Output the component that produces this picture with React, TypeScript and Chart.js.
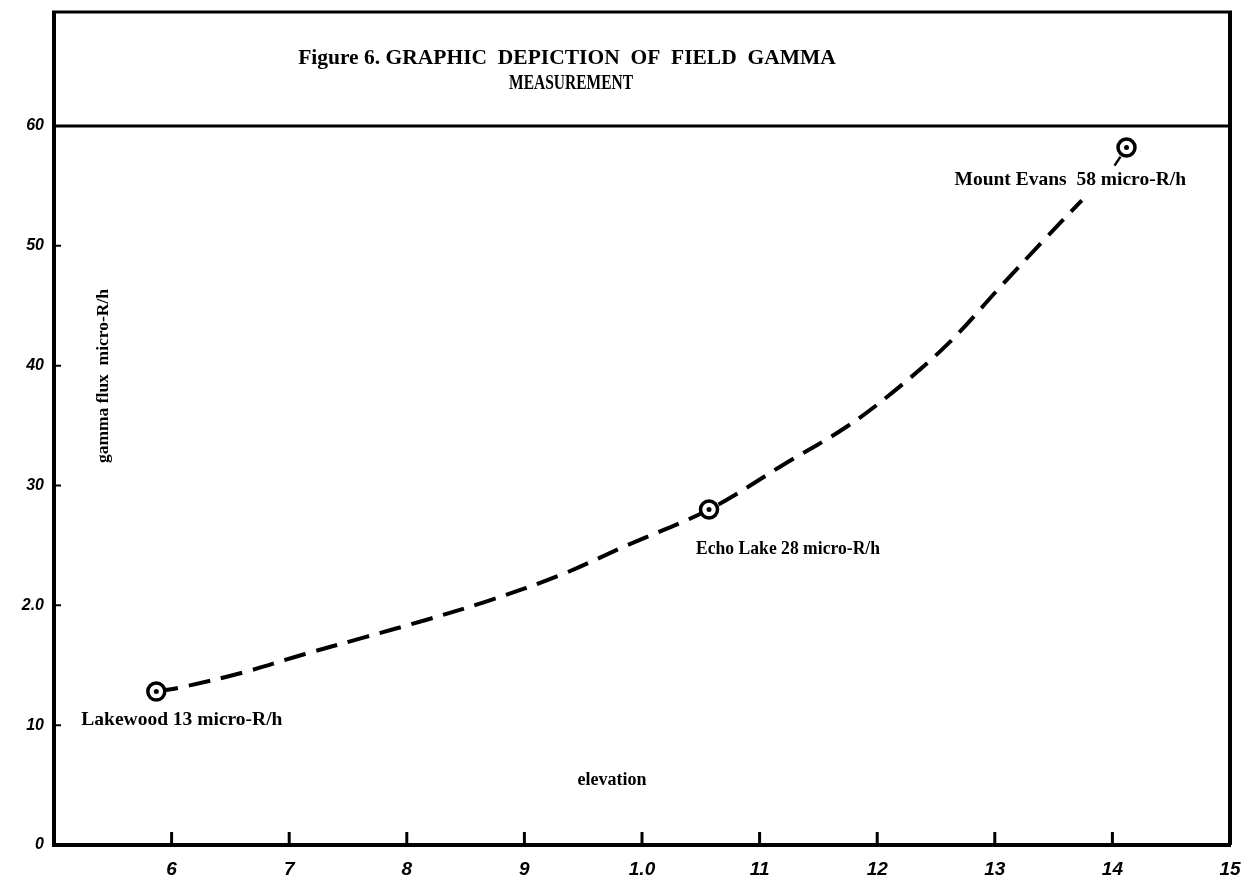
import React, { useEffect, useRef } from "react";
import { Chart, registerables } from "chart.js";

Chart.register(...registerables);

// ---- data ----
const siteNames = ["Lakewood", "Echo Lake", "Mount Evans"];
const siteLabels = ["Lakewood 13 micro-R/h", "Echo Lake 28 micro-R/h", "Mount Evans  58 micro-R/h"];
const siteElevation = [5.87, 10.57, 14.12];
const siteGamma = [12.8, 28.0, 58.2];

const curveElevation = [5.87, 6.1, 6.61, 7.12, 7.63, 8.17, 8.7, 9.3, 9.87, 10.57, 11.23, 11.74, 12.16, 12.61, 13.04, 13.4, 13.74];
const curveGamma = [12.8, 13.2, 14.4, 15.9, 17.3, 18.8, 20.4, 22.5, 25.0, 28.0, 31.9, 34.9, 38.0, 41.9, 46.5, 50.3, 53.8];

const xTickValues = [6, 7, 8, 9, 10, 11, 12, 13, 14, 15];
const xTickLabels = ["6", "7", "8", "9", "1.0", "11", "12", "13", "14", "15"];
const yTickValues = [0, 10, 20, 30, 40, 50, 60];
const yTickLabels = ["0", "10", "2.0", "30", "40", "50", "60"];

const titleLines = ["Figure 6. GRAPHIC  DEPICTION  OF  FIELD  GAMMA", "MEASUREMENT"];
const xAxisTitle = "elevation";
const yAxisTitle = "gamma flux  micro-R/h";

const labelFont = "bold 19.5px 'Liberation Serif', serif";

const framePlugin = {
  id: "frame",
  afterDraw(chart: any) {
    const { ctx, chartArea } = chart;
    const { left, right, top, bottom } = chartArea;
    const xs = chart.scales.x;
    const ys = chart.scales.y;
    ctx.save();
    ctx.strokeStyle = "#000";
    ctx.lineCap = "butt";
    // title box
    ctx.lineWidth = 3;
    ctx.beginPath();
    ctx.moveTo(left - 2, 12);
    ctx.lineTo(right + 2, 12);
    ctx.moveTo(left, top);
    ctx.lineTo(right, top);
    ctx.stroke();
    ctx.lineWidth = 4;
    ctx.beginPath();
    ctx.moveTo(left, 12);
    ctx.lineTo(left, top);
    ctx.moveTo(right, 12);
    ctx.lineTo(right, bottom);
    ctx.stroke();
    // inward tick marks
    ctx.lineWidth = 3;
    ctx.beginPath();
    xTickValues.forEach((v) => {
      if (v >= 15) return;
      const px = xs.getPixelForValue(v);
      ctx.moveTo(px, bottom);
      ctx.lineTo(px, bottom - 13);
    });
    ctx.stroke();
    ctx.lineWidth = 2;
    ctx.beginPath();
    yTickValues.forEach((v) => {
      if (v <= 0 || v >= 60) return;
      const py = ys.getPixelForValue(v);
      ctx.moveTo(left, py);
      ctx.lineTo(left + 7, py);
    });
    ctx.stroke();

    // Mount Evans connector
    const meta = chart.getDatasetMeta(1);
    const me = meta.data[2];
    if (me) {
      ctx.lineWidth = 2.5;
      ctx.beginPath();
      ctx.moveTo(me.x - 6, me.y + 9);
      ctx.lineTo(me.x - 12, me.y + 18);
      ctx.stroke();
    }

    // title
    ctx.fillStyle = "#000";
    ctx.textAlign = "center";
    ctx.textBaseline = "middle";
    ctx.font = "bold 21.5px 'Liberation Serif', serif";
    ctx.fillText(titleLines[0], 567, 58, 542);
    ctx.fillText(titleLines[1], 571, 83, 124);

    // axis titles
    ctx.font = "bold 18px 'Liberation Serif', serif";
    ctx.fillText(xAxisTitle, 612, 780);
    ctx.save();
    ctx.translate(103, 376);
    ctx.rotate(-Math.PI / 2);
    ctx.font = "bold 17.5px 'Liberation Serif', serif";
    ctx.fillText(yAxisTitle, 0, 0);
    ctx.restore();

    // site labels
    const offsets = [
      [-75, 28, 205],
      [-13, 40, 184],
      [-172, 32, 233],
    ];
    ctx.font = labelFont;
    ctx.textAlign = "left";
    meta.data.forEach((pt: any, i: number) => {
      ctx.fillText(siteLabels[i], pt.x + offsets[i][0], pt.y + offsets[i][1], offsets[i][2]);
    });
    ctx.restore();
  },
};

export default function App() {
  const ref = useRef<HTMLCanvasElement | null>(null);
  useEffect(() => {
    if (!ref.current) return;
    const sites = siteElevation.map((x, i) => ({ x, y: siteGamma[i] }));
    const curve = curveElevation.map((x, i) => ({ x, y: curveGamma[i] }));
    const chart = new Chart(ref.current, {
      type: "scatter",
      data: {
        datasets: [
          {
            label: "centre",
            data: sites,
            showLine: false,
            pointRadius: 2.5,
            pointBackgroundColor: "#000",
            pointBorderWidth: 0,
            order: 0,
          },
          {
            label: siteNames.join(", "),
            data: sites,
            showLine: false,
            pointRadius: 8.5,
            pointBorderWidth: 3.5,
            pointBorderColor: "#000",
            pointBackgroundColor: "#fff",
            order: 1,
          },
          {
            label: "trend",
            data: curve,
            showLine: true,
            borderColor: "#000",
            borderWidth: 4,
            borderDash: [22, 11],
            tension: 0.35,
            pointRadius: 0,
            order: 2,
          },
        ],
      },
      options: {
        responsive: false,
        animation: false,
        events: [],
        layout: { padding: { top: 126, right: 26, left: 0, bottom: 0 } },
        plugins: { legend: { display: false }, tooltip: { enabled: false }, title: { display: false } },
        scales: {
          x: {
            type: "linear",
            min: 5,
            max: 15,
            afterFit: (s: any) => {
              s.height = 35;
            },
            afterBuildTicks: (s: any) => {
              s.ticks = xTickValues.map((v) => ({ value: v }));
            },
            grid: { display: false, drawTicks: false },
            border: { display: true, width: 4, color: "#000" },
            ticks: {
              autoSkip: false,
              maxRotation: 0,
              padding: 13,
              color: "#000",
              font: { family: "'Liberation Sans', sans-serif", size: 19, style: "italic", weight: "bold" },
              callback: (v: any) => {
                const i = xTickValues.indexOf(Number(v));
                return i >= 0 ? xTickLabels[i] : "";
              },
            },
          },
          y: {
            type: "linear",
            min: 0,
            max: 60,
            afterFit: (s: any) => {
              s.width = 54;
            },
            afterBuildTicks: (s: any) => {
              s.ticks = yTickValues.map((v) => ({ value: v }));
            },
            grid: { display: false, drawTicks: false },
            border: { display: true, width: 4, color: "#000" },
            ticks: {
              padding: 10,
              color: "#000",
              font: { family: "'Liberation Sans', sans-serif", size: 16, style: "italic", weight: "bold" },
              callback: (v: any) => {
                const i = yTickValues.indexOf(Number(v));
                return i >= 0 ? yTickLabels[i] : "";
              },
            },
          },
        },
      },
      plugins: [framePlugin],
    });
    return () => chart.destroy();
  }, []);
  return (
    <div style={{ position: "fixed", left: 0, top: 0, width: 1256, height: 880, background: "#fff" }}>
      <canvas ref={ref} width={1256} height={880} />
    </div>
  );
}
